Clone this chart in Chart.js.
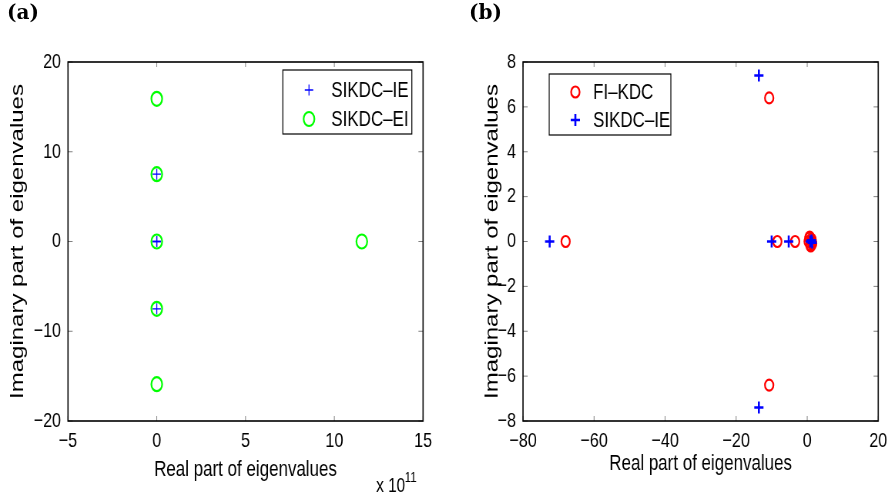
<!DOCTYPE html>
<html>
<head>
<meta charset="utf-8">
<script src="https://cdn.jsdelivr.net/npm/chart.js"></script>
<style>
  body { margin: 0; background: #fff; }
  #page { position: relative; width: 893px; height: 494px; overflow: hidden; }
  /* MATLAB export is squeezed horizontally, so each panel is drawn wide and squeezed */
  .panel { position: absolute; top: 0; width: 581px; height: 494px; transform: scaleX(0.77); transform-origin: 0 0; }
  .tag { position: absolute; top: 0px; font: bold 20px "DejaVu Serif", serif; color: #000; }
</style>
</head>
<body>
<div id="page">
  <div class="panel" style="left:0"><canvas id="chartA" width="580" height="494"></canvas></div>
  <div class="panel" style="left:446px"><canvas id="chartB" width="581" height="494"></canvas></div>
  <div class="tag" style="left:7px">(a)</div>
  <div class="tag" style="left:469px">(b)</div>
</div>
<script>
// (a) real parts are in units of 1e11
const labelsA = ['SIKDC\u2013IE', 'SIKDC\u2013EI'];
const reA_IE = [0, 0, 0, 0];
const imA_IE = [7.5, 0, 0, -7.5];
const reA_EI = [0, 0, 0, 0, 0, 11.55];
const imA_EI = [15.9, 7.5, 0, -7.5, -15.9, 0];
const xTicksA = [-5, 0, 5, 10, 15];
const yTicksA = [-20, -10, 0, 10, 20];

// (b)
const labelsB = ['FI\u2013KDC', 'SIKDC\u2013IE'];
const reB_FI = [-68, -10.7, -10.7, -8.4, -3.4, 0.4, 0.6, 0.9, 1.2, 1.4, 0.7, 1.0, 1.3];
const imB_FI = [0, 6.4, -6.4, 0, 0, 0, 0.15, -0.15, 0.1, -0.1, 0.2, -0.2, 0];
const reB_IE = [-72.5, -13.6, -13.6, -10, -5.2, 0.9, 1.2, 1.4];
const imB_IE = [0, 7.4, -7.4, 0, 0, 0, 0.05, -0.05];
const xTicksB = [-80, -60, -40, -20, 0, 20];
const yTicksB = [-8, -6, -4, -2, 0, 2, 4, 6, 8];

const FONT = "'Liberation Sans', Arial, sans-serif";

function pts(xs, ys) {
  return xs.map((v, i) => ({ x: v, y: ys[i] }));
}

function fmt(v) {
  return v < 0 ? '\u2212' + Math.abs(v) : String(v);
}

// box, inward ticks and legend drawn like matlab
const frame = {
  id: 'frame',
  afterDraw(chart, args, opts) {
    const { ctx, chartArea: a } = chart;
    const x = chart.scales.x, y = chart.scales.y;
    ctx.save();
    ctx.strokeStyle = '#808080';
    ctx.lineWidth = 1;
    ctx.beginPath();
    x.ticks.forEach(t => {
      const px = x.getPixelForValue(t.value);
      ctx.moveTo(px, a.bottom); ctx.lineTo(px, a.bottom - 5);
      ctx.moveTo(px, a.top); ctx.lineTo(px, a.top + 5);
    });
    y.ticks.forEach(t => {
      const py = y.getPixelForValue(t.value);
      ctx.moveTo(a.left, py); ctx.lineTo(a.left + 6, py);
      ctx.moveTo(a.right, py); ctx.lineTo(a.right - 6, py);
    });
    ctx.stroke();
    ctx.strokeStyle = '#000';
    ctx.lineWidth = 1.6;
    ctx.strokeRect(a.left, a.top, a.width, a.height);

    // legend
    const L = opts.legend;
    const bx = a.left + L.dx, by = a.top + L.dy;
    ctx.lineWidth = 1.2;
    ctx.strokeStyle = '#000';
    ctx.fillStyle = '#fff';
    ctx.fillRect(bx, by, L.w, L.h);
    ctx.strokeRect(bx, by, L.w, L.h);
    ctx.font = '22px ' + FONT;
    ctx.textBaseline = 'middle';
    L.order.forEach((di, k) => {
      const ds = chart.data.datasets[di];
      const cy = by + L.rows[k];
      const cx = bx + L.mx;
      ctx.strokeStyle = ds.borderColor;
      ctx.lineWidth = ds.borderWidth;
      ctx.beginPath();
      if (ds.pointStyle === 'cross') {
        ctx.moveTo(cx - ds.pointRadius, cy); ctx.lineTo(cx + ds.pointRadius, cy);
        ctx.moveTo(cx, cy - ds.pointRadius); ctx.lineTo(cx, cy + ds.pointRadius);
      } else {
        ctx.arc(cx, cy, ds.pointRadius, 0, Math.PI * 2);
      }
      ctx.stroke();
      ctx.fillStyle = '#000';
      ctx.fillText(ds.label, bx + L.tx, cy + 1);
    });

    // exponent under x axis
    if (opts.exponent) {
      ctx.fillStyle = '#000';
      ctx.textBaseline = 'alphabetic';
      ctx.font = '20px ' + FONT;
      ctx.fillText('x 10', a.right - 61, 492);
      ctx.font = '15px ' + FONT;
      ctx.fillText(opts.exponent, a.right - 24, 482);
    }
    ctx.restore();
  }
};

function scaleOpts(ticks, xTitle, yTitle, yTitlePad, yWidth, xTitlePad) {
  const tickFont = { family: FONT, size: 21 };
  const titleFont = { family: FONT, size: 22 };
  return {
    x: {
      type: 'linear', min: ticks.x[0], max: ticks.x[ticks.x.length - 1],
      afterBuildTicks: s => { s.ticks = ticks.x.map(v => ({ value: v })); },
      ticks: { callback: fmt, color: '#000', font: tickFont, padding: 8, maxRotation: 0 },
      grid: { display: false, drawTicks: false },
      border: { display: false },
      title: { display: true, text: xTitle, color: '#000', font: titleFont, padding: { top: 0, bottom: xTitlePad } },
      afterFit: s => { s.height = 73; }
    },
    y: {
      type: 'linear', min: ticks.y[0], max: ticks.y[ticks.y.length - 1],
      afterBuildTicks: s => { s.ticks = ticks.y.map(v => ({ value: v })); },
      ticks: { callback: fmt, color: '#000', font: tickFont, padding: 9 },
      grid: { display: false, drawTicks: false },
      border: { display: false },
      title: { display: true, text: yTitle, color: '#000', font: { family: FONT, size: 24 }, padding: { top: yTitlePad, bottom: 0 } },
      afterFit: s => { s.width = yWidth; }
    }
  };
}

const chartA = new Chart(document.getElementById('chartA'), {
  type: 'scatter',
  data: {
    datasets: [
      { label: labelsA[0], data: pts(reA_IE, imA_IE), pointStyle: 'cross', pointRadius: 5.5,
        borderColor: '#0000ff', backgroundColor: '#0000ff', borderWidth: 1.3 },
      { label: labelsA[1], data: pts(reA_EI, imA_EI), pointStyle: 'circle', pointRadius: 7,
        borderColor: '#00ff00', backgroundColor: 'rgba(0,0,0,0)', borderWidth: 2.2 }
    ]
  },
  options: {
    responsive: false, animation: false, devicePixelRatio: 1,
    layout: { padding: { left: 0, top: 62, right: 30.6, bottom: 0 } },
    scales: scaleOpts({ x: xTicksA, y: yTicksA }, 'Real part of eigenvalues', 'Imaginary part of eigenvalues', 9, 88.3, 11),
    plugins: {
      legend: { display: false }, tooltip: { enabled: false },
      frame: { legend: { dx: 279, dy: 8, w: 167.5, h: 64, rows: [20, 49], mx: 34, tx: 63, order: [0, 1] }, exponent: '11' }
    }
  },
  plugins: [frame]
});

const chartB = new Chart(document.getElementById('chartB'), {
  type: 'scatter',
  data: {
    datasets: [
      { label: labelsB[1], data: pts(reB_IE, imB_IE), pointStyle: 'cross', pointRadius: 6,
        borderColor: '#0000ff', backgroundColor: '#0000ff', borderWidth: 2.6 },
      { label: labelsB[0], data: pts(reB_FI, imB_FI), pointStyle: 'circle', pointRadius: 5.5,
        borderColor: '#ff0000', backgroundColor: 'rgba(0,0,0,0)', borderWidth: 2.2 }
    ]
  },
  options: {
    responsive: false, animation: false, devicePixelRatio: 1,
    layout: { padding: { left: 0, top: 62, right: 13.5, bottom: 0 } },
    scales: scaleOpts({ x: xTicksB, y: yTicksB }, 'Real part of eigenvalues', 'Imaginary part of eigenvalues', 46, 100, 17),
    plugins: {
      legend: { display: false }, tooltip: { enabled: false },
      frame: { legend: { dx: 34, dy: 12, w: 158, h: 61, rows: [18, 46], mx: 34, tx: 57, order: [1, 0] } }
    }
  },
  plugins: [frame]
});
</script>
</body>
</html>
